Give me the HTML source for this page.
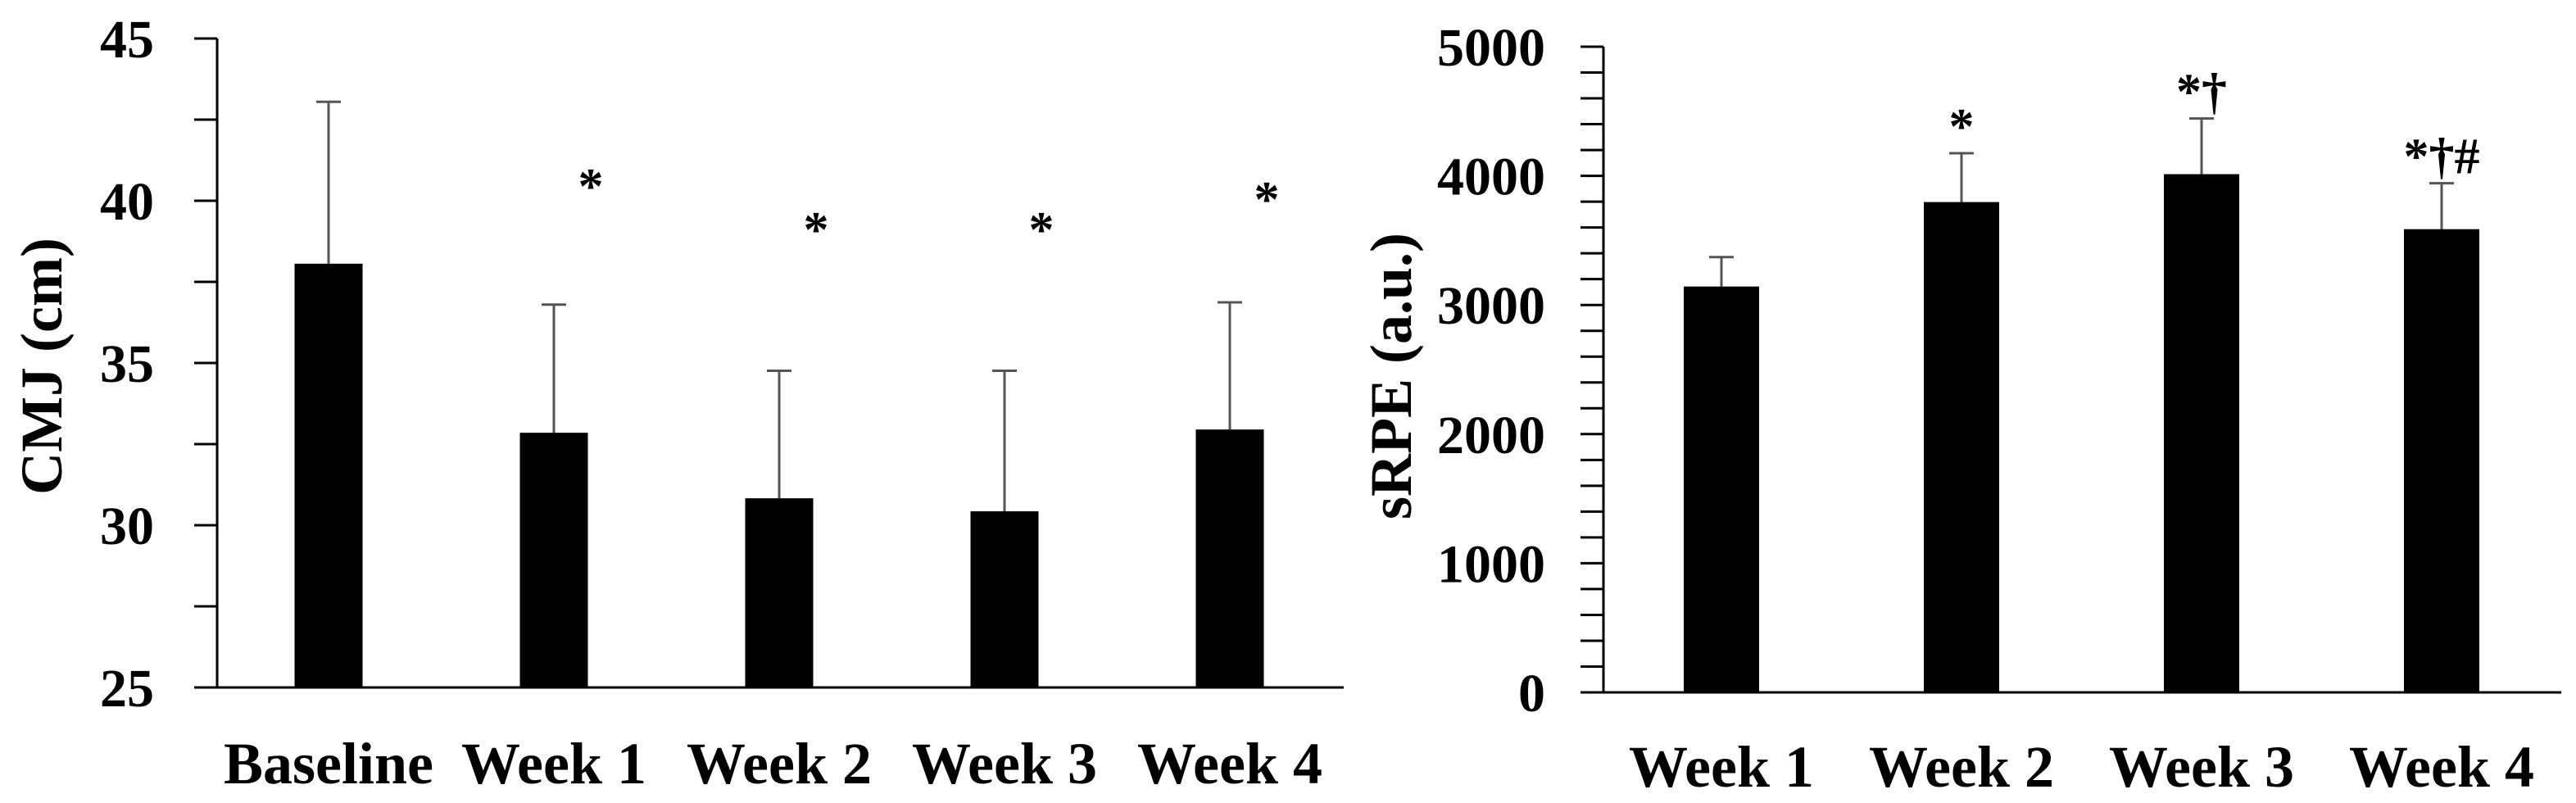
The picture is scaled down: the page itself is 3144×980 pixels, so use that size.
<!DOCTYPE html>
<html><head><meta charset="utf-8"><style>
html,body{margin:0;padding:0;background:#fff;}
svg{display:block;font-family:"Liberation Serif",serif;font-weight:bold;}
</style></head><body>
<svg id="chart" width="3144" height="980" viewBox="0 0 3144 980" xmlns="http://www.w3.org/2000/svg">
<g id="left"></g>
<g id="right"></g>
</svg>
<script>
const cmjCategories = ["Baseline","Week 1","Week 2","Week 3","Week 4"];
const cmjValues = [38.06, 32.85, 30.83, 30.43, 32.95];
const cmjErrors = [4.99, 3.95, 3.93, 4.33, 3.92];
const cmjMarks = ["", "*", "*", "*", "*"];
const cmjTicks = [25, 30, 35, 40, 45];

const srpeCategories = ["Week 1","Week 2","Week 3","Week 4"];
const srpeValues = [3143, 3797, 4013, 3587];
const srpeErrors = [228, 378, 431, 356];
const srpeMarks = ["", "*", "*†", "*†#"];
const srpeTicks = [0, 1000, 2000, 3000, 4000, 5000];

const NS = "http://www.w3.org/2000/svg";
function mk(parent, tag, attrs, text) {
  const e = document.createElementNS(NS, tag);
  for (const k in attrs) e.setAttribute(k, attrs[k]);
  if (text !== undefined) e.textContent = text;
  parent.appendChild(e);
  return e;
}

function drawChart(g, cfg) {
  const y = v => cfg.y0 - (v - cfg.vmin) / (cfg.vmax - cfg.vmin) * (cfg.y0 - cfg.y1);
  const x = i => cfg.xFirst + i * cfg.step;
  cfg.values.forEach((v, i) => {
    const cx = x(i);
    const top = y(v), et = y(v + cfg.errors[i]);
    let l = mk(g, "line", {x1: cx, x2: cx, y1: top, y2: et, stroke: "#555", "stroke-width": 3});
    
    
    let c = mk(g, "line", {x1: cx - 15, x2: cx + 15, y1: et, y2: et, stroke: "#555", "stroke-width": 3});
    
    
    let r = mk(g, "rect", {x: cx - cfg.bw / 2, y: top, width: cfg.bw, height: cfg.y0 - top, fill: "#000"});
    
    
    if (cfg.marks[i]) {
      const my = cfg.markAtBar ? et - 12 : cfg.markY[i] + 30;
      let t = mk(g, "text", {x: cx + cfg.markDx, y: my, "text-anchor": "middle", "font-size": 62}, cfg.marks[i]);
      
      
    }
    let xl = mk(g, "text", {x: cx, y: cfg.xLabelY, "text-anchor": "middle", "font-size": 72}, cfg.cats[i]);
    
    
  });
  let ya = mk(g, "line", {x1: cfg.ax, x2: cfg.ax, y1: cfg.y1, y2: cfg.y0 + 1.5, stroke: "#000", "stroke-width": 3});
  
  
  let xa = mk(g, "line", {x1: cfg.ax - 28, x2: cfg.xEnd, y1: cfg.y0, y2: cfg.y0, stroke: "#000", "stroke-width": 3});
  
  
  for (let v = cfg.vmin; v <= cfg.vmax + 1e-6; v += cfg.minor) {
    let t = mk(g, "line", {x1: cfg.ax - 28, x2: cfg.ax, y1: y(v), y2: y(v), stroke: "#000", "stroke-width": 3});
    
    
  }
  cfg.ticks.forEach(v => {
    let t = mk(g, "text", {x: cfg.labelRight, y: y(v) + 23, "text-anchor": "end", "font-size": 66}, v);
    
    
  });
  let tt = mk(g, "text", {x: 0, y: 0, "text-anchor": "middle", "font-size": 72, transform: `translate(${cfg.titleX},${cfg.titleY}) rotate(-90)`}, cfg.title);
  
  
}

drawChart(document.getElementById("left"), {
  cats: cmjCategories, values: cmjValues, errors: cmjErrors, marks: cmjMarks, ticks: cmjTicks,
  vmin: 25, vmax: 45, minor: 2.5, y0: 839, y1: 47, ax: 265, xEnd: 1640,
  xFirst: 401, step: 275, bw: 83, labelRight: 188, xLabelY: 956,
  title: "CMJ (cm)", titleX: 75, titleY: 447, markDx: 45, markAtBar: false,
  markY: [0, 218, 271, 271, 234]
});
drawChart(document.getElementById("right"), {
  cats: srpeCategories, values: srpeValues, errors: srpeErrors, marks: srpeMarks, ticks: srpeTicks,
  vmin: 0, vmax: 5000, minor: 200, y0: 845, y1: 57, ax: 1957, xEnd: 3126,
  xFirst: 2101, step: 293, bw: 92, labelRight: 1886, xLabelY: 960,
  title: "sRPE (a.u.)", titleX: 1722, titleY: 459, markDx: 0, markAtBar: true
});
</script>
</body></html>
